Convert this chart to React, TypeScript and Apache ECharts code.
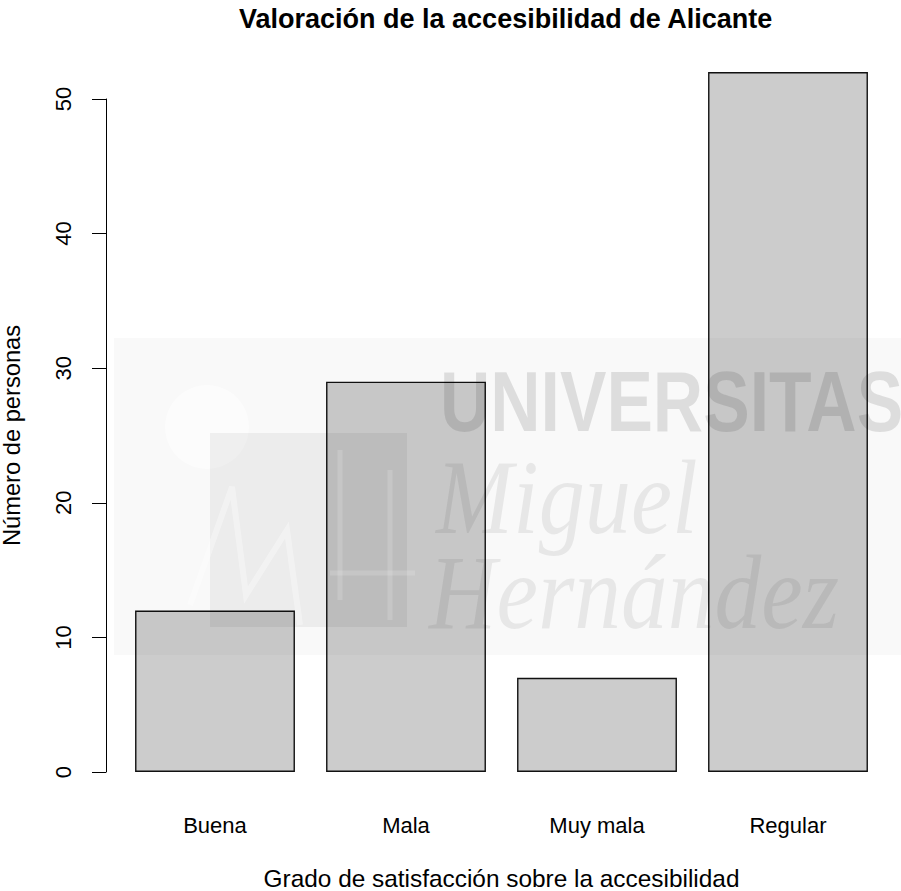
import React, { useEffect, useRef } from "react";
import * as echarts from "echarts";

const categories = ["Buena", "Mala", "Muy mala", "Regular"];
const counts = [12, 29, 7, 52];
const yTicks = { min: 0, max: 50, interval: 10 };
const titleText = "Valoración de la accesibilidad de Alicante";
const xTitle = "Grado de satisfacción sobre la accesibilidad";
const yTitle = "Número de personas";

export default function App() {
  const ref = useRef<HTMLDivElement>(null);
  useEffect(() => {
    document.body.style.margin = "0";
    const chart = echarts.init(ref.current!, null, { renderer: "svg" });
    const font = "'Liberation Sans', Arial, Helvetica, sans-serif";
    chart.setOption({
      animation: false,
      backgroundColor: "#ffffff",
      title: {
        text: titleText,
        left: 234,
        top: 0,
        textStyle: { fontFamily: font, fontSize: 27, fontWeight: "bold", color: "#000" },
      },
      grid: { left: 119.5, right: 17.5, top: 99, bottom: 119, containLabel: false, outerBoundsMode: "none" },
      xAxis: {
        type: "category",
        data: categories,
        axisLine: { show: false },
        axisTick: { show: false },
        axisLabel: { margin: 42, fontFamily: font, fontSize: 22, color: "#000" },
        name: xTitle,
        nameLocation: "middle",
        nameGap: 94,
        nameTextStyle: { fontFamily: font, fontSize: 24.4, color: "#000" },
      },
      yAxis: {
        type: "value",
        min: yTicks.min,
        max: yTicks.max,
        interval: yTicks.interval,
        offset: 13.5,
        splitLine: { show: false },
        axisLine: { show: true, lineStyle: { color: "#000", width: 1 } },
        axisTick: { show: true, length: 14, lineStyle: { color: "#000", width: 1 } },
        axisLabel: { rotate: 90, margin: 32, fontFamily: font, fontSize: 22, color: "#000" },
        name: yTitle,
        nameLocation: "middle",
        nameGap: 82,
        nameTextStyle: { fontFamily: font, fontSize: 23.7, color: "#000" },
      },
      series: [
        {
          type: "bar",
          data: counts,
          clip: false,
          barCategoryGap: "16.3%",
          itemStyle: { color: "#cccccc", borderColor: "#111", borderWidth: 1.4 },
        },
      ],
      graphic: [
        { type: "rect", z: 100, silent: true, shape: { x: 114, y: 338, width: 787, height: 317 }, style: { fill: "#000", opacity: 0.025 } },
        { type: "circle", z: 100, silent: true, shape: { cx: 207, cy: 427, r: 42 }, style: { fill: "#fff", opacity: 0.5 } },
        { type: "rect", z: 100, silent: true, shape: { x: 210, y: 433, width: 197, height: 194 }, style: { fill: "#000", opacity: 0.05 } },
        { type: "polyline", z: 100, silent: true, shape: { points: [[190, 605], [232, 487], [246, 595], [287, 530], [300, 625]] }, style: { stroke: "#fff", lineWidth: 6, fill: "none", opacity: 0.35 } },
        { type: "line", z: 100, silent: true, shape: { x1: 340, y1: 450, x2: 340, y2: 600 }, style: { stroke: "#fff", lineWidth: 5, opacity: 0.15 } },
        { type: "line", z: 100, silent: true, shape: { x1: 390, y1: 470, x2: 390, y2: 620 }, style: { stroke: "#fff", lineWidth: 5, opacity: 0.15 } },
        { type: "line", z: 100, silent: true, shape: { x1: 330, y1: 573, x2: 415, y2: 573 }, style: { stroke: "#fff", lineWidth: 5, opacity: 0.15 } },
        { type: "text", z: 100, silent: true, x: 440, y: 401, scaleX: 0.81, style: { x: 0, y: 0, text: "UNIVERSITAS", font: "bold 86px 'Liberation Sans', Arial, sans-serif", fill: "#000", opacity: 0.11, verticalAlign: "middle" } },
        { type: "text", z: 100, silent: true, x: 436, y: 445, scaleX: 0.88, style: { x: 0, y: 0, text: "Miguel", font: "italic 105px 'Liberation Serif', serif", fill: "#000", opacity: 0.07, verticalAlign: "top" } },
        { type: "text", z: 100, silent: true, x: 429, y: 540, scaleX: 0.89, style: { x: 0, y: 0, text: "Hernández", font: "italic 105px 'Liberation Serif', serif", fill: "#000", opacity: 0.07, verticalAlign: "top" } },
      ],
    });
    return () => chart.dispose();
  }, []);
  return <div ref={ref} style={{ width: 901, height: 891 }} />;
}
